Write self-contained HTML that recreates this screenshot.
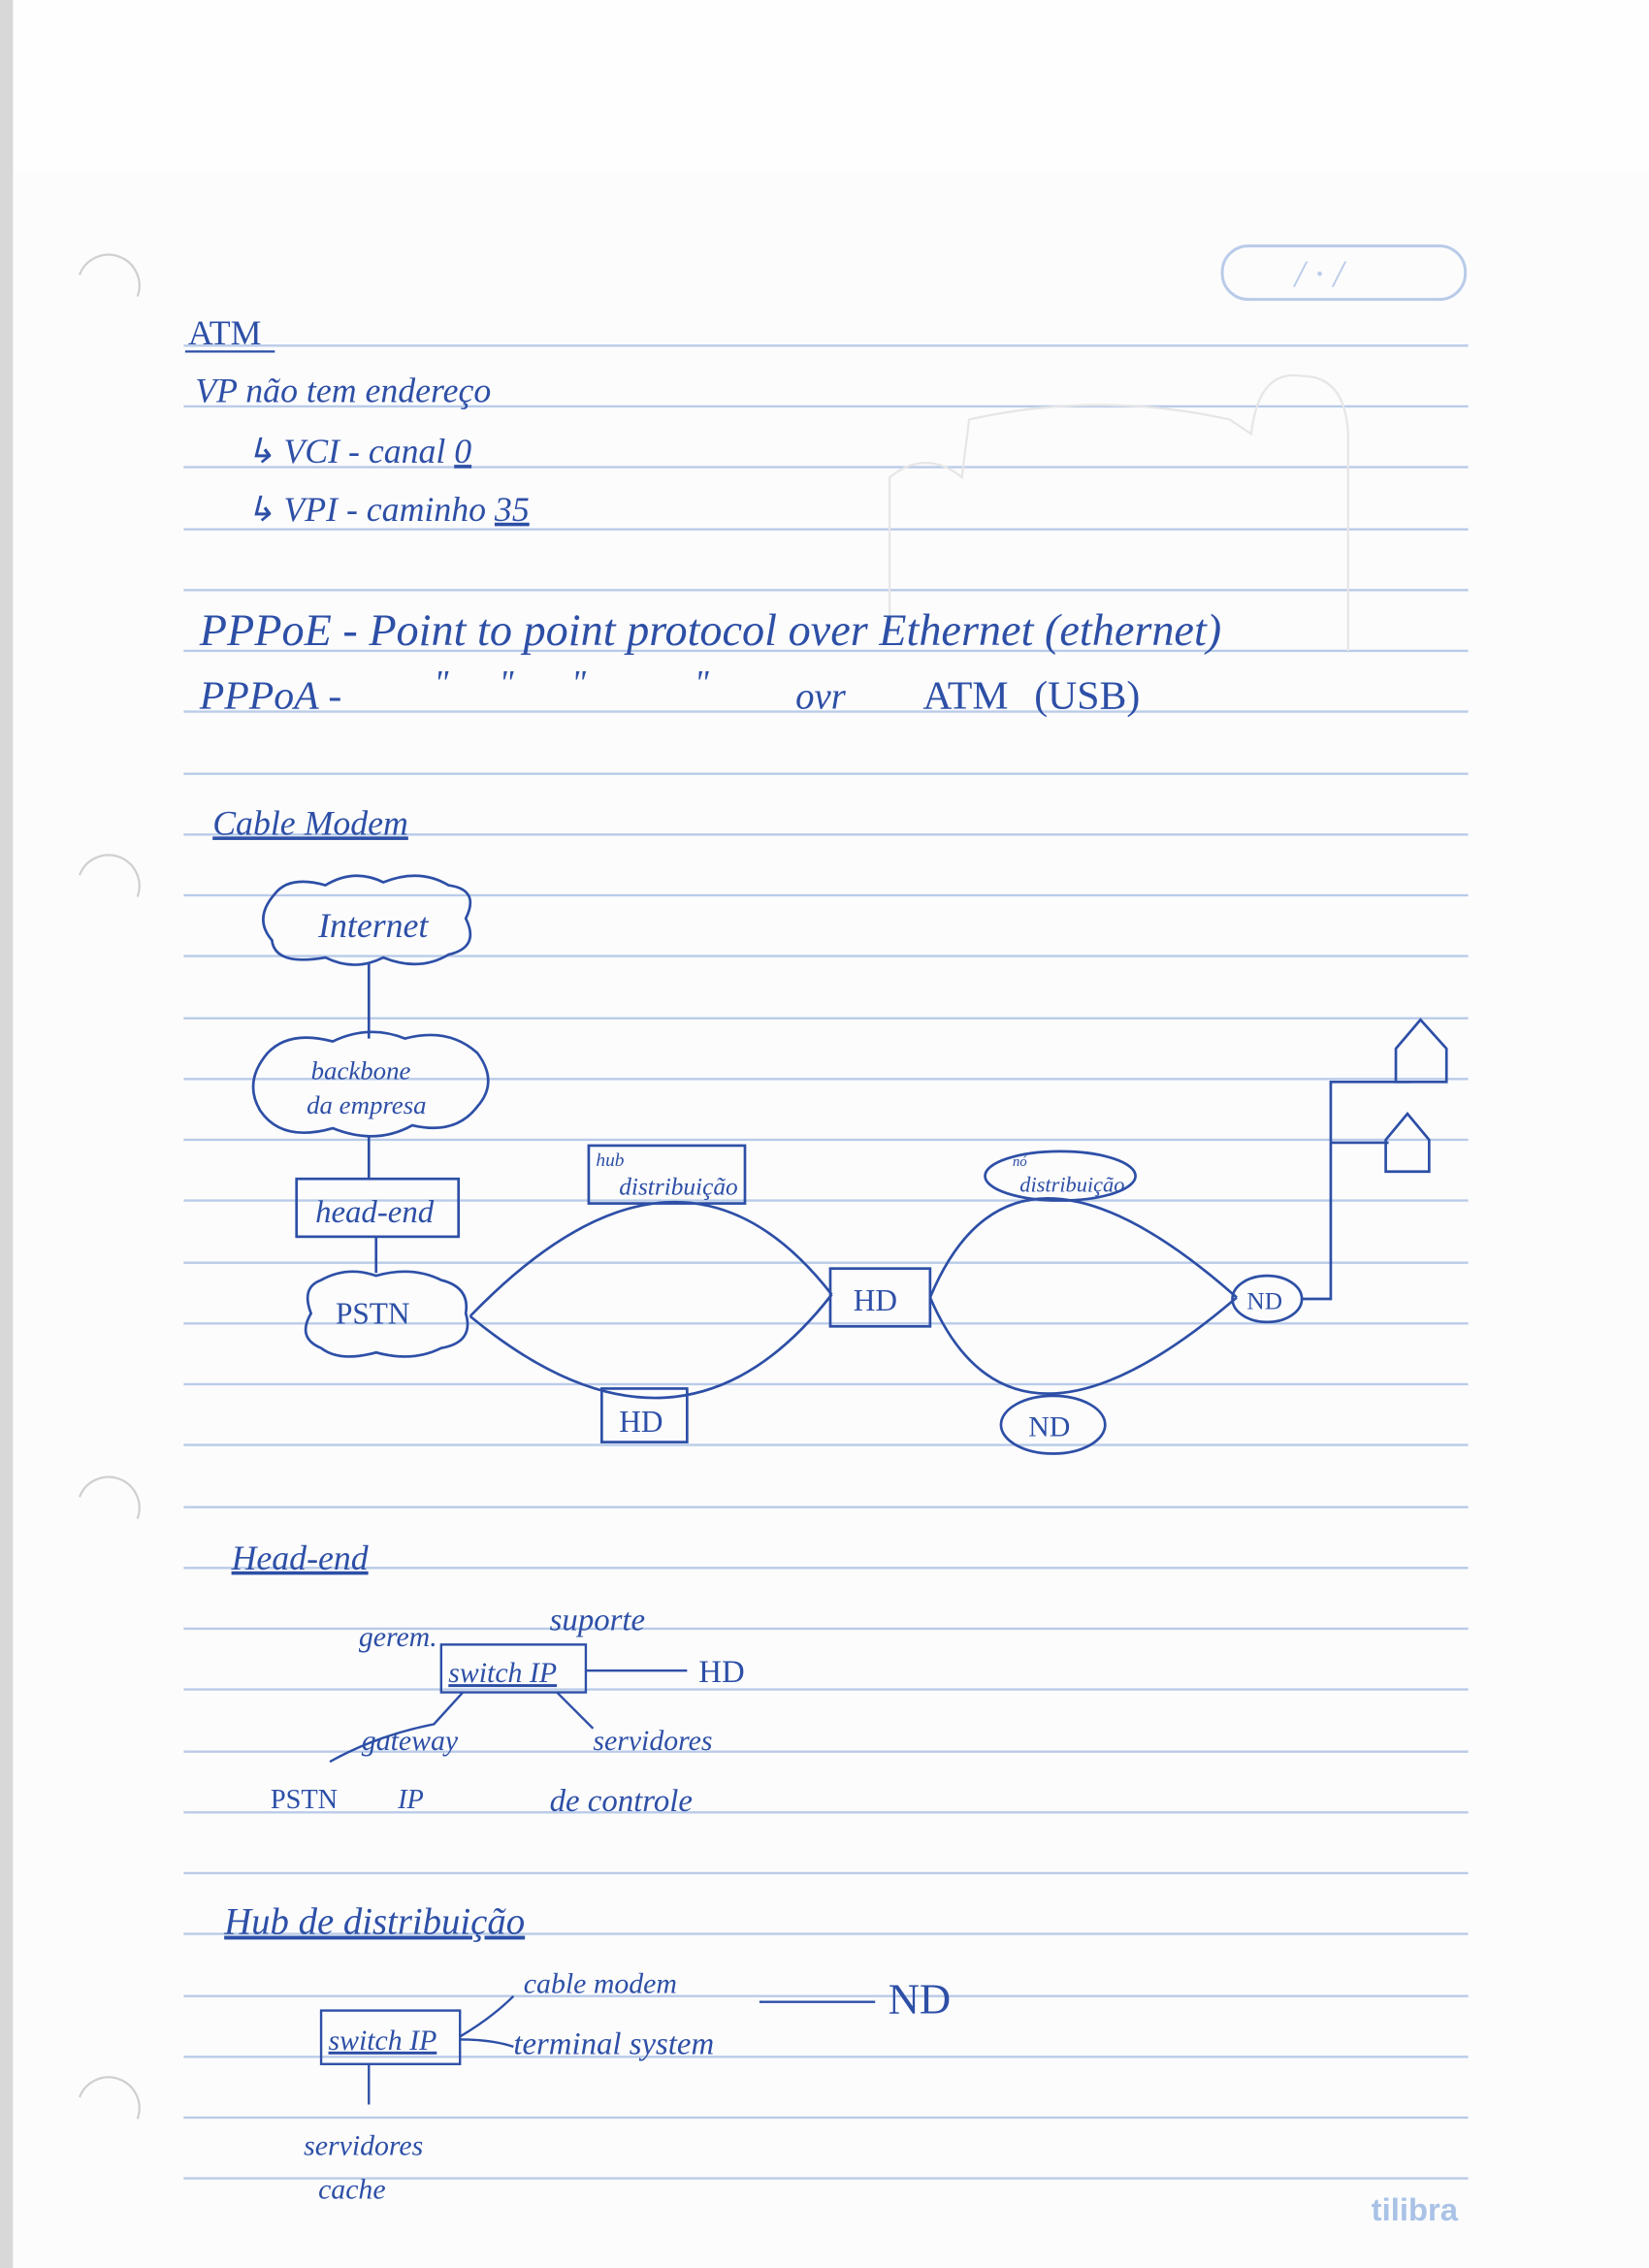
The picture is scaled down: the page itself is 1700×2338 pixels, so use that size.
<!DOCTYPE html>
<html><head><meta charset="utf-8"><style>
html,body{margin:0;padding:0;background:#fff;}
svg{display:block;}
text{font-family:"Liberation Serif",serif;font-style:italic;fill:#2d4fa6;}
</style></head><body>
<svg width="1700" height="2338" viewBox="0 0 1140 1568" preserveAspectRatio="none" xmlns="http://www.w3.org/2000/svg">
<rect x="0" y="0" width="1140" height="1568" fill="#fefefe"/>
<rect x="0" y="0" width="9" height="1568" fill="#d8d8d8"/>
<rect x="9" y="118" width="1131" height="1450" fill="#fcfcfd"/>
<g fill="none" stroke="#d0d0d0" stroke-width="1.5">
<path d="M55 190 A20 20 0 0 1 95 205"/><path d="M55 605 A20 20 0 0 1 95 620"/>
<path d="M55 1035 A20 20 0 0 1 95 1050"/><path d="M55 1450 A20 20 0 0 1 95 1465"/>
</g>
<g stroke="#b9cbe8" stroke-width="1.6">
<line x1="127" y1="239" x2="1015" y2="239"/><line x1="127" y1="281" x2="1015" y2="281"/>
<line x1="127" y1="323" x2="1015" y2="323"/><line x1="127" y1="366" x2="1015" y2="366"/>
<line x1="127" y1="408" x2="1015" y2="408"/><line x1="127" y1="450" x2="1015" y2="450"/>
<line x1="127" y1="492" x2="1015" y2="492"/><line x1="127" y1="535" x2="1015" y2="535"/>
<line x1="127" y1="577" x2="1015" y2="577"/><line x1="127" y1="619" x2="1015" y2="619"/>
<line x1="127" y1="661" x2="1015" y2="661"/><line x1="127" y1="704" x2="1015" y2="704"/>
<line x1="127" y1="746" x2="1015" y2="746"/><line x1="127" y1="788" x2="1015" y2="788"/>
<line x1="127" y1="830" x2="1015" y2="830"/><line x1="127" y1="873" x2="1015" y2="873"/>
<line x1="127" y1="915" x2="1015" y2="915"/><line x1="127" y1="957" x2="1015" y2="957"/>
<line x1="127" y1="999" x2="1015" y2="999"/><line x1="127" y1="1042" x2="1015" y2="1042"/>
<line x1="127" y1="1084" x2="1015" y2="1084"/><line x1="127" y1="1126" x2="1015" y2="1126"/>
<line x1="127" y1="1168" x2="1015" y2="1168"/><line x1="127" y1="1211" x2="1015" y2="1211"/>
<line x1="127" y1="1253" x2="1015" y2="1253"/><line x1="127" y1="1295" x2="1015" y2="1295"/>
<line x1="127" y1="1337" x2="1015" y2="1337"/><line x1="127" y1="1380" x2="1015" y2="1380"/>
<line x1="127" y1="1422" x2="1015" y2="1422"/><line x1="127" y1="1464" x2="1015" y2="1464"/>
<line x1="127" y1="1506" x2="1015" y2="1506"/>
</g>
<rect x="845" y="170" width="168" height="37" rx="18" fill="none" stroke="#b9cbe8" stroke-width="2"/>
<text x="895" y="198" font-size="26" style="fill:#b9cbe8">/ · /</text>
<g fill="none" stroke="#e6e6e6" stroke-width="1.5">
<path d="M615 440 L615 330 Q640 310 665 330 L670 290 Q760 270 850 290 L865 300 Q870 255 900 260 Q930 260 932 300 L932 450"/>
</g>
<text x="130" y="238" font-size="24" style="font-style:normal">ATM</text>
<line x1="128" y1="243" x2="190" y2="243" stroke="#2d4fa6" stroke-width="1.5"/>
<text x="135" y="278" font-size="24">VP não tem endereço</text>
<text x="170" y="320" font-size="24">↳ VCI - canal <tspan text-decoration="underline">0</tspan></text>
<text x="170" y="360" font-size="24">↳ VPI - caminho <tspan text-decoration="underline">35</tspan></text>
<text x="138" y="446" font-size="31">PPPoE - Point to point protocol over Ethernet (ethernet)</text>
<text x="138" y="490" font-size="28">PPPoA -</text>
<text x="300" y="480" font-size="24">"</text><text x="345" y="480" font-size="24">"</text>
<text x="395" y="480" font-size="24">"</text><text x="480" y="480" font-size="24">"</text>
<text x="550" y="490" font-size="26">ovr</text>
<text x="638" y="490" font-size="28" style="font-style:normal">ATM</text>
<text x="715" y="490" font-size="28" style="font-style:normal">(USB)</text>
<text x="147" y="577" font-size="24" text-decoration="underline">Cable Modem</text>
<g fill="none" stroke="#2d4fa6" stroke-width="1.8">
<path d="M190 618 Q200 605 225 612 Q245 600 265 610 Q290 600 310 612 Q332 615 322 635 Q332 655 310 660 Q290 672 265 662 Q245 672 225 662 Q190 668 188 650 Q175 635 190 618Z"/>
<line x1="255" y1="666" x2="255" y2="718"/>
<path d="M185 728 Q200 712 230 720 Q255 708 280 718 Q310 710 330 728 Q345 748 330 765 Q315 785 285 778 Q260 792 230 780 Q195 790 180 768 Q168 748 185 728Z"/>
<line x1="255" y1="786" x2="255" y2="815"/>
<rect x="205" y="815" width="112" height="40"/>
<line x1="260" y1="855" x2="260" y2="880"/>
<path d="M222 885 Q240 875 260 882 Q285 875 305 885 Q325 890 322 908 Q328 928 305 932 Q285 942 260 935 Q235 942 222 932 Q205 925 215 908 Q208 890 222 885Z"/>
<path d="M325 910 Q470 760 575 895"/><path d="M325 910 Q470 1030 575 895"/>
<rect x="407" y="792" width="108" height="40"/>
<rect x="416" y="960" width="59" height="37"/>
<rect x="574" y="877" width="69" height="40"/>
<path d="M643 897 Q700 760 855 897"/><path d="M643 897 Q700 1030 855 897"/>
<ellipse cx="733" cy="813" rx="52" ry="17"/>
<ellipse cx="728" cy="985" rx="36" ry="20"/>
<ellipse cx="876" cy="898" rx="24" ry="16"/>
<polyline points="900,898 920,898 920,748 975,748"/>
<line x1="920" y1="790" x2="960" y2="790"/>
<path d="M965 748 L965 725 L982 705 L1000 725 L1000 748 Z"/>
<path d="M958 810 L958 788 L973 770 L988 788 L988 810 Z"/>
</g>
<text x="258" y="648" font-size="24" text-anchor="middle">Internet</text>
<text x="215" y="746" font-size="18">backbone</text>
<text x="212" y="770" font-size="18">da empresa</text>
<text x="218" y="845" font-size="22">head-end</text>
<text x="232" y="915" font-size="21" style="font-style:normal">PSTN</text>
<text x="412" y="806" font-size="13">hub</text>
<text x="428" y="826" font-size="17">distribuição</text>
<text x="428" y="990" font-size="21" style="font-style:normal">HD</text>
<text x="590" y="906" font-size="21" style="font-style:normal">HD</text>
<text x="700" y="806" font-size="10">nó</text>
<text x="705" y="824" font-size="15">distribuição</text>
<text x="711" y="993" font-size="20" style="font-style:normal">ND</text>
<text x="862" y="905" font-size="17" style="font-style:normal">ND</text>
<text x="160" y="1085" font-size="24" text-decoration="underline">Head-end</text>
<text x="248" y="1138" font-size="20">gerem.</text>
<text x="380" y="1127" font-size="22">suporte</text>
<g fill="none" stroke="#2d4fa6" stroke-width="1.6">
<rect x="305" y="1137" width="100" height="33"/>
<line x1="405" y1="1155" x2="475" y2="1155"/>
<path d="M320 1170 L300 1192 Q260 1200 228 1218"/>
<line x1="385" y1="1170" x2="410" y2="1195"/>
<rect x="222" y="1390" width="96" height="37"/>
<path d="M318 1408 Q340 1395 355 1380"/><path d="M318 1410 Q340 1410 355 1415"/>
<line x1="525" y1="1384" x2="605" y2="1384"/>
<line x1="255" y1="1427" x2="255" y2="1455"/>
</g>
<text x="310" y="1163" font-size="20" text-decoration="underline">switch IP</text>
<text x="483" y="1163" font-size="22" style="font-style:normal">HD</text>
<text x="250" y="1210" font-size="20">gateway</text>
<text x="410" y="1210" font-size="20">servidores</text>
<text x="187" y="1250" font-size="19" style="font-style:normal">PSTN</text>
<text x="275" y="1250" font-size="19">IP</text>
<text x="380" y="1252" font-size="22">de controle</text>
<text x="155" y="1337" font-size="26" text-decoration="underline">Hub de distribuição</text>
<text x="362" y="1378" font-size="20">cable modem</text>
<text x="355" y="1420" font-size="22">terminal system</text>
<text x="227" y="1417" font-size="20" text-decoration="underline">switch IP</text>
<text x="614" y="1392" font-size="30" style="font-style:normal">ND</text>
<text x="210" y="1490" font-size="20">servidores</text>
<text x="220" y="1520" font-size="20">cache</text>
<text x="948" y="1535" font-size="22" style="fill:#a9c2e6;font-style:normal;font-family:'Liberation Sans',sans-serif;font-weight:bold">tilibra</text>
</svg>
</body></html>
